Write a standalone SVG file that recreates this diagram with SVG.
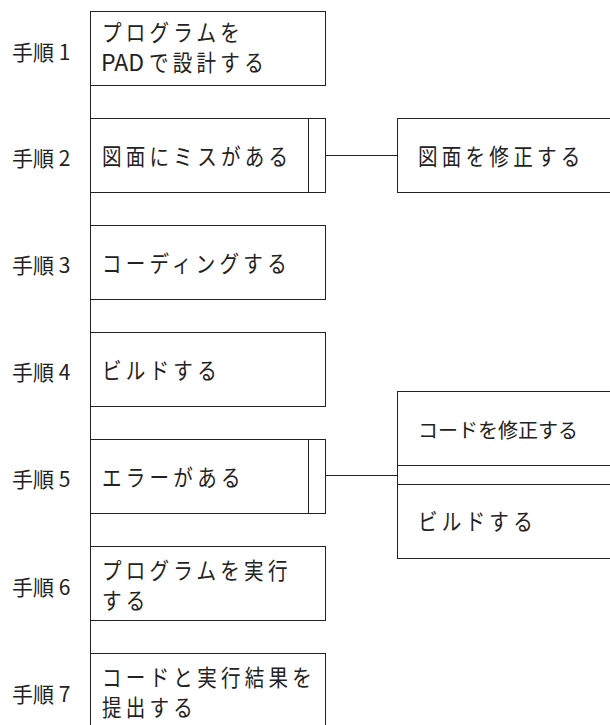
<svg xmlns="http://www.w3.org/2000/svg" width="610" height="725" viewBox="0 0 610 725">
<style>
.box{fill:#fff;stroke:#222;stroke-width:1}
.ln{stroke:#222;stroke-width:1;fill:none}
text{font-family:"Noto Sans CJK JP","Noto Sans",sans-serif;font-size:21px;fill:#222}
.t{font-size:23px;letter-spacing:5px}
.lat{font-size:23px;letter-spacing:0}
.tight{font-size:20px;letter-spacing:0}
</style>
<rect width="610" height="725" fill="#fff"/>
<g id="connectors">
<line class="ln" x1="90.5" y1="11.5" x2="90.5" y2="725"/>
<line class="ln" x1="325.5" y1="155.5" x2="397.5" y2="155.5"/>
<line class="ln" x1="325.5" y1="475.5" x2="397.5" y2="475.5"/>
<line class="ln" x1="397.5" y1="391.5" x2="397.5" y2="558.5"/>
</g>
<g id="label1"><text x="12" y="60">手順 1</text></g>
<g id="label2"><text x="12" y="166">手順 2</text></g>
<g id="label3"><text x="12" y="273">手順 3</text></g>
<g id="label4"><text x="12" y="380">手順 4</text></g>
<g id="label5"><text x="12" y="487">手順 5</text></g>
<g id="label6"><text x="12" y="595">手順 6</text></g>
<g id="label7"><text x="12" y="702">手順 7</text></g>
<g id="step1"><rect class="box" x="90.5" y="11.5" width="235" height="74"/><text class="t" transform="translate(102,41) scale(0.85,1)">プログラムを</text><text class="lat" x="101" y="71">PAD</text><text class="t" transform="translate(149,71) scale(0.85,1)">で設計する</text></g>
<g id="step2"><rect class="box" x="90.5" y="118.5" width="235" height="74"/><line class="ln" x1="308.5" y1="118.5" x2="308.5" y2="192.5"/><text class="t" transform="translate(102,164.5) scale(0.85,1)">図面にミスがある</text></g>
<g id="fix2"><rect class="box" x="397.5" y="118.5" width="220" height="74"/><text class="t" transform="translate(418,164.5) scale(0.85,1)">図面を修正する</text></g>
<g id="step3"><rect class="box" x="90.5" y="225.5" width="235" height="74"/><text class="t" transform="translate(102,271.5) scale(0.85,1)">コーディングする</text></g>
<g id="step4"><rect class="box" x="90.5" y="332.5" width="235" height="74"/><text class="t" transform="translate(102,378.5) scale(0.85,1)">ビルドする</text></g>
<g id="step5"><rect class="box" x="90.5" y="439.5" width="235" height="74"/><line class="ln" x1="308.5" y1="439.5" x2="308.5" y2="513.5"/><text class="t" transform="translate(102,485.5) scale(0.85,1)">エラーがある</text></g>
<g id="fix5a"><rect class="box" x="397.5" y="391.5" width="220" height="74"/><text class="tight" x="418" y="438">コードを修正する</text></g>
<g id="fix5b"><rect class="box" x="397.5" y="484.5" width="220" height="74"/><text class="t" transform="translate(418,529.5) scale(0.85,1)">ビルドする</text></g>
<g id="step6"><rect class="box" x="90.5" y="546.5" width="235" height="74"/><text class="t" transform="translate(102,579) scale(0.85,1)">プログラムを実行</text><text class="t" transform="translate(102,609) scale(0.85,1)">する</text></g>
<g id="step7"><rect class="box" x="90.5" y="653.5" width="235" height="80"/><text class="t" transform="translate(102,686) scale(0.85,1)">コードと実行結果を</text><text class="t" transform="translate(102,716) scale(0.85,1)">提出する</text></g>
</svg>
